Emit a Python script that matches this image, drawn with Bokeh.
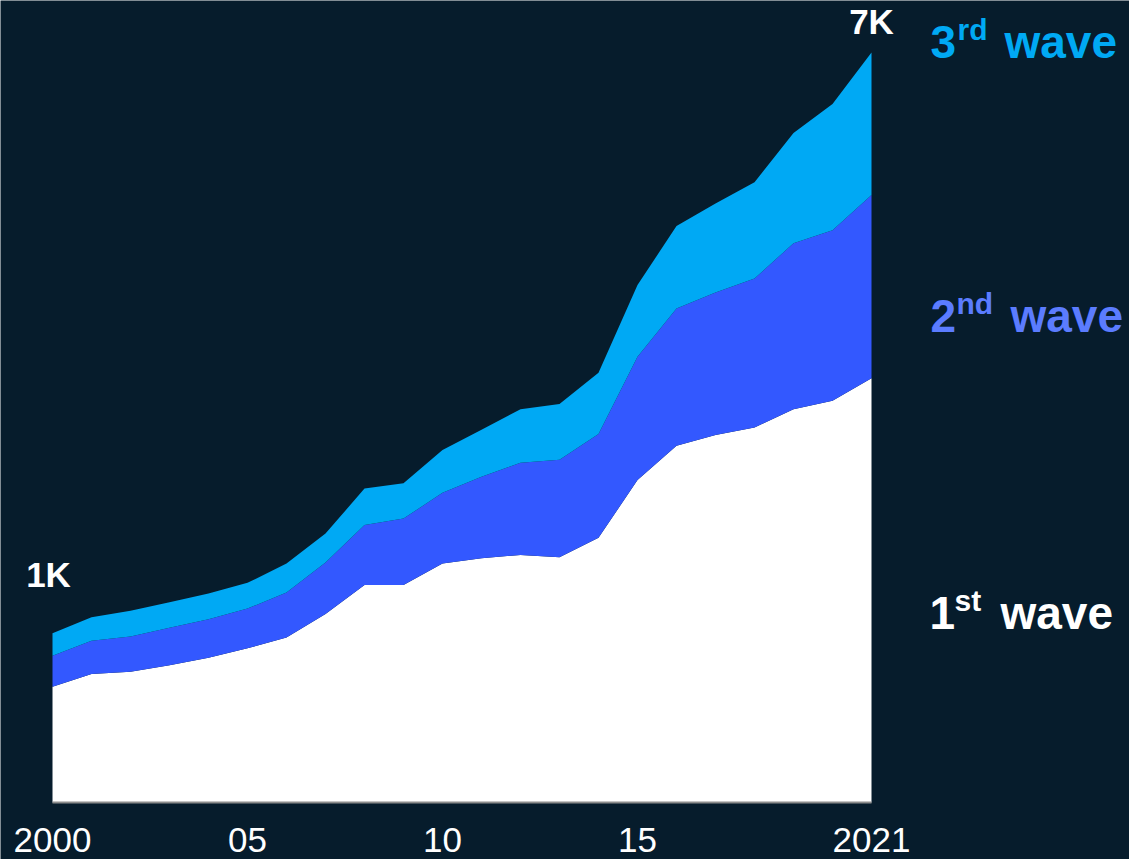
from bokeh.plotting import figure
from bokeh.models import ColumnDataSource, Range1d, FixedTicker, Label
from bokeh.embed import file_html
from bokeh.resources import INLINE

years = list(range(2000, 2022))
first_wave = [1.08, 1.20, 1.22, 1.28, 1.35, 1.44, 1.54, 1.76, 2.03, 2.03, 2.23,
              2.28, 2.31, 2.29, 2.47, 3.01, 3.33, 3.43, 3.50, 3.67, 3.75, 3.96]
second_wave = [0.29, 0.31, 0.33, 0.35, 0.36, 0.37, 0.42, 0.48, 0.56, 0.62, 0.66,
               0.76, 0.86, 0.91, 0.97, 1.15, 1.28, 1.33, 1.39, 1.55, 1.59, 1.71]
third_wave = [0.21, 0.22, 0.24, 0.24, 0.24, 0.24, 0.27, 0.27, 0.34, 0.33, 0.40,
              0.44, 0.50, 0.52, 0.57, 0.67, 0.77, 0.83, 0.90, 1.03, 1.18, 1.33]
tick_years = [2000, 2005, 2010, 2015, 2021]
tick_labels = ["2000", "05", "10", "15", "2021"]

BG = "#061c2c"
C1 = "#ffffff"
C2 = "#3358ff"
C3 = "#00a9f4"
FONT = "Liberation Sans"

source = ColumnDataSource(dict(year=years, w1=first_wave, w2=second_wave, w3=third_wave))

W, H = 1129, 859
pxy = 39.0
pxv = 107.14
p = figure(width=W, height=H, output_backend="svg", toolbar_location=None,
           x_range=Range1d(2000 - 52 / pxy, 2000 + (W - 52) / pxy),
           y_range=Range1d(-57 / pxv, 802 / pxv),
           min_border=0, outline_line_color=None,
           background_fill_color=BG, border_fill_color=BG)

p.varea_stack(["w1", "w2", "w3"], x="year", color=[C1, C2, C3], source=source)

p.xgrid.visible = False
p.ygrid.visible = False
p.yaxis.visible = False

ax = p.xaxis[0]
ax.fixed_location = 0
ax.bounds = (2000, 2021)
ax.ticker = FixedTicker(ticks=tick_years)
ax.major_label_overrides = {y: l for y, l in zip(tick_years, tick_labels)}
ax.major_tick_line_color = None
ax.minor_tick_line_color = None
ax.axis_line_color = "#8c8c8c"
ax.axis_line_width = 2
ax.major_label_text_font = FONT
ax.major_label_text_font_size = "35px"
ax.major_label_text_color = "#ffffff"
ax.major_label_standoff = 19

total0 = first_wave[0] + second_wave[0] + third_wave[0]
totalN = first_wave[-1] + second_wave[-1] + third_wave[-1]
p.add_layout(Label(x=years[0], y=total0, text="1K", x_offset=-4, y_offset=59,
                   text_align="center", text_baseline="alphabetic",
                   text_font=FONT, text_font_style="bold", text_font_size="35px",
                   text_color="#ffffff"))
p.add_layout(Label(x=years[-1], y=totalN, text="7K", x_offset=0, y_offset=31,
                   text_align="center", text_baseline="alphabetic",
                   text_font=FONT, text_font_style="bold", text_font_size="35px",
                   text_color="#ffffff"))

def wave_label(num, sup, x_num, x_sup, x_word, base, color):
    yb = H - base + 19
    for txt, xx, yy, size in [(num, x_num, yb, "46px"), (sup, x_sup, yb + 12, "30px"),
                              ("wave", x_word, yb, "46px")]:
        p.add_layout(Label(x=xx, y=yy, x_units="screen", y_units="screen", text=txt,
                           text_align="left", text_baseline="alphabetic",
                           text_font=FONT, text_font_style="bold", text_font_size=size,
                           text_color=color))

wave_label("3", "rd", 930, 957, 1004, 60, C3)
wave_label("2", "nd", 930, 956, 1010, 334, "#5b7cff")
wave_label("1", "st", 929, 954, 1000, 631, C1)

open("out.html", "w").write(file_html(p, INLINE))
